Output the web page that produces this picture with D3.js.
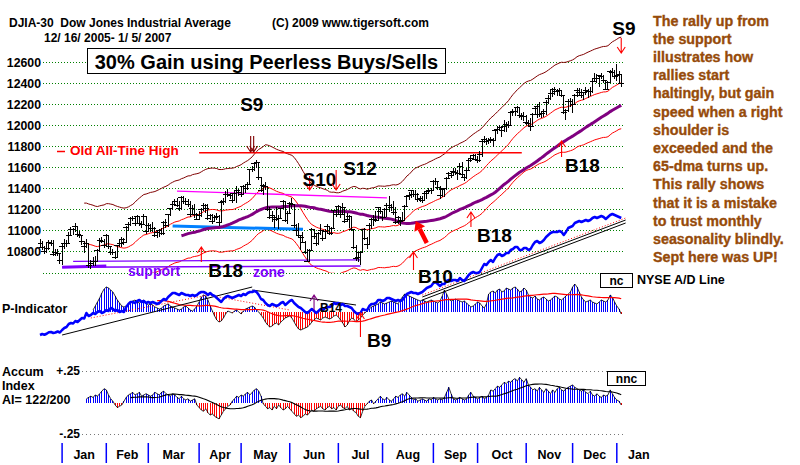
<!DOCTYPE html>
<html>
<head>
<meta charset="utf-8">
<script src="https://cdn.jsdelivr.net/npm/d3@7"></script>
<style>
  body { margin: 0; background: #fff; }
  svg text { font-family: "Liberation Sans", Arial, sans-serif; font-weight: bold; }
</style>
</head>
<body>
<div id="chart"></div>
<script>
// ---- data: DJIA daily bars 12/16/2005 - 1/5/2007
const holidays = ["2005-12-26","2006-01-02","2006-01-16","2006-02-20","2006-04-14","2006-05-29",
  "2006-07-04","2006-09-04","2006-11-23","2006-12-25","2007-01-01","2007-01-02"];

const closes = [
  10876,10837,10806,10834,10889,10884,10778,10796,10785,10718,
  10847,10880,10882,10959,11012,11012,11043,10962,10960,10896,10855,10881,10667,10689,10712,10711,10809,10907,10901,10865,
  10954,10852,10794,10798,10750,10859,10883,10919,10892,11028,11059,11121,11115,11069,11137,11068,11062,11138,10993,
  11054,11026,11022,10959,10981,11006,10972,11076,11051,11151,11210,11253,11280,11240,11215,11317,11273,11280,11250,11155,11216,11151,11109,
  11144,11203,11240,11213,11120,11141,11090,11130,11137,11074,11268,11279,11343,11347,11336,11283,11354,11383,11367,
  11343,11416,11400,11439,11578,11585,11640,11643,11501,11381,11429,11420,11205,11128,11144,11124,11105,11117,11211,11278,11094,11168,
  11260,11248,11049,11002,10956,10939,10892,10793,10706,10817,11015,10942,10875,10975,11007,10929,10989,11045,10974,11021,11191,11150,
  11228,11151,11225,11091,11104,11135,11013,10846,10739,10747,10799,11011,10928,10868,11051,11104,11103,11100,11220,11186,
  11125,11200,11243,11240,11219,11174,11076,11124,11088,11098,11230,11327,11335,11381,11345,11340,11298,11304,11284,11352,11370,11383,11381,
  11464,11469,11406,11331,11392,11397,11498,11544,11527,11561,11555,11541,11613,11533,11508,11576,11669,11689,11718,11679,
  11670,11727,11851,11867,11850,11858,11867,11852,11948,11961,11981,11950,11993,12012,12002,12117,12128,12135,12164,12090,12086,12081,
  12031,12019,11986,12106,12157,12177,12103,12108,12132,12218,12252,12306,12343,12317,12322,12327,12280,12122,12136,12227,12222,
  12194,12284,12332,12309,12278,12307,12328,12316,12318,12417,12446,12441,12471,12464,12421,12343,12408,12511,12502,12463,
  12475,12481,12398
];
const highs = [
  10920,10900,10860,10880,10910,10915,10910,10830,10830,10790,
  10880,10920,10910,10990,11040,11030,11070,11050,11000,10960,10900,10920,10880,10720,10750,10760,10830,10930,10940,10920,
  10970,10960,10860,10830,10810,10870,10920,10940,10930,11050,11080,11130,11140,11140,11150,11140,11090,11160,11140,
  11070,11060,11080,11040,11000,11020,11030,11090,11110,11160,11220,11280,11300,11310,11280,11330,11330,11310,11300,11280,11240,11250,11170,
  11190,11220,11260,11250,11250,11160,11160,11150,11170,11150,11290,11310,11380,11400,11360,11350,11380,11420,11400,
  11420,11430,11440,11460,11590,11610,11650,11670,11650,11500,11440,11460,11420,11230,11190,11150,11230,11150,11220,11290,11280,11190,
  11270,11310,11250,11060,11070,10960,10990,10900,10830,10830,11030,11020,10970,10990,11060,11010,11020,11060,11050,11040,11200,11230,
  11240,11230,11260,11230,11170,11150,11140,11010,10870,10790,10810,11020,11030,10940,11070,11120,11150,11190,11230,11230,
  11190,11220,11260,11330,11250,11280,11230,11140,11130,11180,11240,11340,11370,11390,11390,11390,11360,11330,11330,11370,11390,11410,11410,
  11480,11500,11470,11420,11410,11410,11510,11560,11560,11600,11600,11580,11640,11650,11540,11600,11680,11720,11730,11730,
  11710,11760,11870,11900,11880,11880,11890,11880,11960,11990,12000,11990,12050,12030,12040,12130,12150,12170,12180,12170,12120,12130,
  12100,12050,12070,12120,12180,12200,12220,12130,12150,12240,12290,12330,12350,12360,12340,12350,12330,12290,12150,12250,12260,
  12250,12300,12350,12350,12340,12320,12360,12340,12360,12440,12500,12490,12480,12500,12480,12430,12420,12520,12540,12520,
  12580,12510,12480
];
const lows = [
  10840,10815,10780,10790,10820,10860,10760,10760,10760,10690,
  10680,10830,10850,10880,10950,10960,10990,10940,10930,10870,10790,10840,10650,10640,10670,10670,10710,10800,10880,10840,
  10850,10830,10770,10770,10730,10740,10850,10850,10870,10880,11000,11050,11090,11050,11060,11050,11030,11060,10970,
  10990,10990,10990,10940,10930,10940,10960,10960,11030,11040,11140,11200,11240,11230,11190,11200,11250,11250,11230,11130,11150,11120,11100,
  11100,11130,11190,11170,11100,11100,11060,11080,11100,11050,11070,11240,11260,11320,11300,11260,11280,11260,11330,
  11320,11340,11360,11390,11440,11560,11570,11600,11480,11370,11340,11390,11190,11110,11080,11030,11090,11020,11110,11210,11080,11060,
  11160,11210,11030,10960,10940,10820,10880,10780,10700,10700,10820,10920,10860,10870,10960,10900,10920,10980,10960,10960,11020,11130,
  11150,11120,11150,11070,11080,11030,11000,10830,10710,10700,10680,10800,10910,10830,10870,11020,11050,11080,11100,11160,
  11090,11120,11130,11180,11190,11150,11060,11060,11050,11080,11100,11230,11290,11310,11320,11300,11270,11270,11260,11280,11300,11350,11350,
  11380,11430,11390,11300,11320,11320,11390,11490,11500,11520,11530,11480,11540,11510,11470,11490,11570,11650,11670,11660,
  11640,11650,11700,11830,11810,11820,11830,11790,11850,11920,11950,11890,11940,11940,11970,11990,12090,12090,12120,12070,12050,12040,
  12000,11980,11950,11990,12100,12070,12080,12070,12080,12100,12200,12240,12270,12290,12280,12290,12270,12110,12050,12130,12170,
  12120,12190,12270,12280,12260,12240,12290,12260,12280,12310,12410,12400,12360,12440,12400,12330,12330,12400,12470,12440,
  12420,12400,12360
];
// NYSE A/D line (relative units)
const adLine = [
  4.0,4.8,4.2,5.0,6.2,6.4,5.6,6.0,6.8,6.0,
  8.0,9.6,10.4,12.8,13.6,13.2,15.2,14.4,16.0,17.6,17.2,21.6,19.2,20.0,21.6,20.8,22.4,23.2,21.6,22.4,
  24.0,23.2,25.6,24.8,23.2,24.0,22.4,23.2,22.4,26.4,28.8,30.4,30.4,29.6,31.2,32.0,30.4,31.2,29.6,
  30.4,29.6,30.4,29.6,28.8,29.6,31.2,32.8,32.0,34.4,36.0,37.6,37.6,36.8,36.0,37.6,36.8,36.0,36.0,35.2,36.0,35.2,36.0,
  37.6,38.4,38.4,37.6,36.0,37.6,36.0,35.2,33.6,32.0,30.4,32.8,34.4,35.2,34.4,33.6,34.4,35.2,36.0,
  35.2,36.8,36.0,37.6,38.4,38.4,39.2,38.4,36.0,32.8,32.0,29.6,28.0,27.2,28.8,28.0,27.2,28.0,29.6,30.4,28.0,29.6,
  31.2,32.0,29.6,28.0,26.4,25.6,24.0,22.4,21.6,23.2,24.8,23.2,21.6,23.2,24.8,24.0,25.6,26.4,26.4,27.2,29.6,28.8,
  29.6,28.0,28.8,27.2,27.2,26.4,25.6,23.2,21.6,20.8,21.6,24.8,24.0,24.0,27.2,28.8,28.8,29.6,32.0,32.0,
  31.2,32.0,33.6,33.6,32.8,32.0,31.2,32.0,31.2,32.0,34.4,36.8,37.6,38.4,37.6,37.6,36.8,37.6,38.4,40.0,41.6,42.4,43.2,
  45.6,46.4,44.8,43.2,44.8,44.8,47.2,48.0,47.2,48.0,48.0,47.2,49.6,48.0,47.2,49.6,52.0,53.6,54.4,53.6,
  53.6,54.4,57.6,60.8,60.0,62.4,64.0,62.4,65.6,68.0,68.8,67.2,68.0,69.6,69.6,72.0,72.8,74.4,74.4,72.0,72.0,73.6,
  73.6,72.0,72.8,76.0,78.4,79.2,77.6,78.4,80.0,82.4,84.0,85.6,86.4,86.4,86.4,87.2,86.4,84.0,86.4,89.6,90.4,
  91.2,93.6,94.4,95.2,94.4,95.2,96.0,95.2,96.0,97.6,98.4,97.6,98.4,99.2,98.4,96.8,98.4,100.0,100.8,100.0,
  99.2,98.4,97.6
];
// P-Indicator
const pInd = [
  null,null,null,null,null,null,null,null,null,null,
  null,null,null,null,null,null,null,null,null,null,null,null,null,null,20,60,100,140,190,230,
  250,240,220,200,160,120,90,60,50,60,80,100,110,120,100,90,110,120,90,
  70,80,70,50,40,30,40,60,70,80,60,50,40,30,20,30,50,60,40,20,10,30,60,
  100,150,170,160,120,60,10,-40,-80,-100,-90,-60,-20,10,0,-10,10,20,0,
  -20,10,30,40,50,60,50,20,0,-30,-60,-100,-130,-150,-140,-120,-110,-130,-100,-80,-60,-50,
  -40,-60,-100,-140,-170,-180,-170,-160,-150,-130,-100,-80,-60,-70,-80,-60,-50,-60,-70,-60,-40,-30,
  -50,-80,-110,-150,-130,-90,-60,-70,-100,-80,-60,-30,-10,10,30,50,60,70,80,100,
  90,80,90,100,110,100,90,80,120,150,180,170,160,150,140,130,120,110,120,110,100,110,120,
  110,100,90,110,160,220,180,130,110,120,130,120,110,100,110,90,70,50,60,80,
  100,90,60,40,80,180,200,210,190,220,230,200,210,240,230,220,240,250,230,200,210,240,
  220,170,150,140,160,130,120,140,150,130,110,120,140,160,150,130,120,140,160,180,200,
  250,280,250,200,150,120,100,110,120,100,90,80,100,120,110,100,120,170,150,100,
  60,30,-20
];
// Accumulation Index
const accum = [
  null,null,null,null,null,null,null,null,null,null,
  null,null,null,null,null,null,null,null,null,null,null,.03,.04,.05,.04,.06,.05,.07,.09,.11,
  .10,.06,.03,.01,-.02,-.04,-.03,-.02,.01,.04,.06,.07,.08,.06,.07,.08,.05,.06,.07,
  .06,.05,.06,.08,.07,.06,.08,.09,.07,.06,.05,.07,.06,.04,.03,.05,.03,.02,.03,.01,.02,.03,-.02,
  -.04,-.06,-.07,-.05,-.08,-.10,-.09,-.11,-.12,-.13,-.10,-.07,-.05,-.03,-.02,.01,.03,.05,.04,
  .06,.05,.07,.08,.06,.08,.10,.11,.09,.05,-.01,-.03,-.05,-.04,-.06,-.03,-.05,-.02,-.04,-.06,-.05,-.03,
  -.05,-.07,-.09,-.11,-.10,-.12,-.11,-.09,-.10,-.08,-.06,-.07,-.05,-.04,-.03,-.05,-.06,-.04,-.03,-.05,-.04,-.06,
  -.03,-.02,-.04,-.05,-.03,-.06,-.05,-.07,-.08,-.11,-.12,-.07,-.03,-.01,.01,.02,-.01,.01,.03,.05,
  .03,.02,.04,.02,.01,.03,.05,.04,.06,.07,.05,.08,.06,.04,.02,.03,.01,.02,.03,.02,.01,.03,.02,
  .04,.03,.02,.03,.02,.04,.08,.12,.07,.03,.02,.03,.04,.03,.02,.03,.06,.08,.05,.04,
  .03,.04,.05,.03,.04,.06,.10,.09,.11,.13,.12,.14,.16,.15,.17,.16,.18,.19,.17,.20,.18,.16,
  .19,.14,.12,.10,.11,.09,.12,.10,.08,.11,.09,.07,.10,.08,.11,.12,.10,.09,.11,.12,.13,
  .14,.12,.11,.10,.09,.10,.08,.07,.09,.06,.05,.07,.05,.04,.06,.05,.06,.10,.07,.04,
  .02,.01,-.02
];

const gridLevels = [10600, 10800, 11000, 11200, 11400, 11600, 11800, 12000, 12200, 12400, 12600];
const priceLabels = [10800, 11000, 11200, 11400, 11600, 11800, 12000, 12200, 12400, 12600];
const monthLabels = ["Jan","Feb","Mar","Apr","May","Jun","Jul","Aug","Sep","Oct","Nov","Dec","Jan"];
const aiTicks = [0.25, -0.25];
const aiTickLabels = ["+.25", "-.25"];

// signals: label, day index, level, panel
const signals = [
  { label: "S9",  i: 263, v: 12685, panel: "price" },
  { label: "S9",  i: 96,  v: 11747, panel: "price" },
  { label: "S10", i: 122, v: 11387, panel: "price" },
  { label: "S12", i: 134, v: 11387, panel: "price" },
  { label: "B18", i: 73,  v: 10846, panel: "price" },
  { label: "B10", i: 169, v: 10799, panel: "price" },
  { label: "B18", i: 195, v: 11178, panel: "price" },
  { label: "B18", i: 236, v: 11851, panel: "price" },
  { label: "B14", i: 124, v: 170,   panel: "pi" },
  { label: "B9",  i: 145, v: -10,   panel: "pi" }
];
const signalStyle = [
  { dx: -9,  dy: -18, len: 15, color: "#ff0000", size: 19 },
  { dx: -12, dy: -41, len: 16, color: "#800000", size: 19, dbl: true },
  { dx: -7,  dy: -4,  len: 14, color: "#ff0000", size: 19 },
  { dx: 7,   dy: -15, len: 20, color: "#ff0000", size: 19 },
  { dx: 7,   dy: 30,  len: 15, color: "#ff0000", size: 19 },
  { dx: 4.5, dy: 31,  len: 18, color: "#ff0000", size: 19 },
  { dx: 6,   dy: 30,  len: 15, color: "#ff0000", size: 19 },
  { dx: 3.5, dy: 31,  len: 16, color: "#ff0000", size: 19 },
  { dx: 6,   dy: 17,  len: 15, color: "#800080", size: 12 },
  { dx: 6.5, dy: 34,  len: 24, color: "#ff0000", size: 19 }
];

// hand-drawn lines in price units [day index, price]
const oldHigh = [[72, 11740], [218, 11740]];
const supportLow = [[10, 10655], [145, 10667]];
const supportHigh = [[15, 10710], [145, 10725]];
const magentaLine = [[62, 11377], [157, 11313]];
const neckline = [[60, 11045], [119, 11014]];
const bigArrow = [[175, 10884], [170, 11093]];
// trendlines in A/D units
const adTrendBlack = [[[10, 4], [96, 42.4]], [[96, 40], [143, 28]]];
const adTrendRed = [[[23, 17.6], [76, 36]], [[76, 36], [113, 24]]];
const adTrendUp = [[173, 34.4], [265, 96]];

const rightNote = ["The rally up from","the support","illustrates how","rallies start",
  "haltingly, but gain","speed when a right","shoulder is","exceeded and the","65-dma turns up.",
  "This rally shows","that it is a mistake","to trust monthly","seasonality blindly.","Sept here was UP!"];

// ---- setup
const W = 800, H = 465;
const svg = d3.select("#chart").append("svg").attr("width", W).attr("height", H);
svg.append("rect").attr("width", W).attr("height", H).attr("fill", "#fff");

const fmt = d3.utcFormat("%Y-%m-%d");
const days = d3.utcDay.range(new Date(Date.UTC(2005, 11, 16)), new Date(Date.UTC(2007, 0, 6)))
  .filter(d => d.getUTCDay() % 6 !== 0 && !holidays.includes(fmt(d)));

const x = d3.scaleLinear().domain([0, days.length - 1]).range([40, 40 + (days.length - 1) * 2.21]);
const y = d3.scaleLinear().domain([10600, 12600]).range([273, 62]);
const adY = d3.scaleLinear().domain([0, 100]).range([340, 215]);
const pY = d3.scaleLinear().domain([0, 100]).range([312, 302]);
const aiY = d3.scaleLinear().domain([-0.25, 0.25]).range([434, 371]);

function sma(vals, n) {
  return vals.map((v, i) => {
    if (i < n - 1) return null;
    const w = vals.slice(i - n + 1, i + 1);
    if (w.some(d => d == null)) return null;
    return d3.mean(w);
  });
}
const ma21 = sma(closes, 21);
const ma65 = sma(closes, 65);
const upper = ma21.map(d => d == null ? null : d * 1.035);
const lower = ma21.map(d => d == null ? null : d * 0.965);
const piMa = sma(pInd, 30);
const aiMa = sma(accum, 21);

const lineOf = (vals, ys) => d3.line()
  .defined(d => d != null)
  .x((d, i) => x(i)).y(d => ys(d))(vals);
const seg = (pts, ys) => d3.line().x(d => x(d[0])).y(d => ys(d[1]))(pts);

// ---- header
svg.append("text").attr("x", 9).attr("y", 27).attr("font-size", 12)
  .text("DJIA-30  Dow Jones Industrial Average").attr("xml:space", "preserve");
svg.append("text").attr("x", 44).attr("y", 42).attr("font-size", 12).text("12/ 16/ 2005- 1/ 5/ 2007");
svg.append("text").attr("x", 272).attr("y", 27).attr("font-size", 12).text("(C) 2009 www.tigersoft.com");

// ---- price grid
svg.append("g").selectAll("line").data(gridLevels).join("line")
  .attr("x1", 43).attr("x2", 625).attr("y1", d => y(d)).attr("y2", d => y(d))
  .attr("stroke", "#008000").attr("stroke-dasharray", "1,2").attr("shape-rendering", "crispEdges");
svg.append("g").selectAll("text").data(priceLabels).join("text")
  .attr("x", 41).attr("y", d => y(d) + 4.5).attr("text-anchor", "end").attr("font-size", 12.3)
  .text(d => d);

// ---- price panel
svg.append("clipPath").attr("id", "pclip").append("rect")
  .attr("x", 38).attr("y", 25).attr("width", 592).attr("height", 248);
const pg = svg.append("g").attr("clip-path", "url(#pclip)");

pg.append("path").attr("d", lineOf(upper, y)).attr("fill", "none").attr("stroke", "#800000");
pg.append("path").attr("d", lineOf(lower, y)).attr("fill", "none").attr("stroke", "#ff0000");
pg.append("path").attr("d", lineOf(ma21, y)).attr("fill", "none").attr("stroke", "#ff0000");

pg.append("path").attr("d", seg(oldHigh, y)).attr("stroke", "#ff0000").attr("stroke-width", 1.5);
pg.append("path").attr("d", seg(supportLow, y)).attr("stroke", "#8000ff").attr("stroke-width", 1.5);
pg.append("path").attr("d", seg(supportLow.map((d, k) => k ? [30, d[1] - 1] : d), y))
  .attr("stroke", "#8000ff").attr("stroke-width", 3);
pg.append("path").attr("d", seg(supportHigh, y)).attr("stroke", "#8000ff").attr("stroke-width", 1.3);
pg.append("path").attr("d", seg(magentaLine, y)).attr("stroke", "#ff00ff").attr("stroke-width", 1.3);
pg.append("path").attr("d", seg(neckline, y)).attr("stroke", "#0080ff").attr("stroke-width", 3);

pg.append("path").attr("d", lineOf(ma65, y)).attr("fill", "none")
  .attr("stroke", "#800080").attr("stroke-width", 3);

const bars = pg.append("g").attr("stroke", "#000").attr("shape-rendering", "crispEdges");
bars.selectAll("line.hl").data(closes).join("line").attr("class", "hl")
  .attr("x1", (d, i) => x(i)).attr("x2", (d, i) => x(i))
  .attr("y1", (d, i) => y(highs[i])).attr("y2", (d, i) => y(lows[i]));
bars.selectAll("line.cl").data(closes).join("line").attr("class", "cl")
  .attr("x1", (d, i) => x(i) - 3).attr("x2", (d, i) => x(i) + 3)
  .attr("y1", d => y(d)).attr("y2", d => y(d));

// big red arrow
{
  const p0 = [x(bigArrow[0][0]), y(bigArrow[0][1])];
  const p1 = [x(bigArrow[1][0]), y(bigArrow[1][1])];
  const ang = Math.atan2(p1[1] - p0[1], p1[0] - p0[0]);
  const hx = p1[0] - 9 * Math.cos(ang), hy = p1[1] - 9 * Math.sin(ang);
  svg.append("line").attr("x1", p0[0]).attr("y1", p0[1]).attr("x2", hx).attr("y2", hy)
    .attr("stroke", "#ff0000").attr("stroke-width", 4.5);
  const px = -Math.sin(ang), py = Math.cos(ang);
  svg.append("path").attr("fill", "#ff0000")
    .attr("d", `M${p1[0]},${p1[1]}L${hx + 6 * px},${hy + 6 * py}L${hx - 6 * px},${hy - 6 * py}Z`);
}

// ---- P-Indicator histogram
const pig = svg.append("g").attr("shape-rendering", "crispEdges");
pig.selectAll("line").data(pInd.map((v, i) => ({ v, i })).filter(d => d.v != null)).join("line")
  .attr("x1", d => x(d.i)).attr("x2", d => x(d.i))
  .attr("y1", pY(0)).attr("y2", d => pY(d.v))
  .attr("stroke", d => d.v >= 0 ? "#0000ff" : "#ff0000");
svg.append("path").attr("d", lineOf(pInd, pY)).attr("fill", "none").attr("stroke", "#000").attr("stroke-width", 0.8);
svg.append("path").attr("d", lineOf(piMa, pY)).attr("fill", "none").attr("stroke", "#ff0000").attr("stroke-width", 1.2);

// ---- A/D line and trendlines
adTrendBlack.forEach(t => svg.append("path").attr("d", seg(t, adY)).attr("stroke", "#000"));
adTrendRed.forEach(t => svg.append("path").attr("d", seg(t, adY)).attr("stroke", "#ff0000")
  .attr("stroke-dasharray", "1,2"));
svg.append("path").attr("d", seg(adTrendUp, adY)).attr("stroke", "#000");
svg.append("path").attr("d", seg(adTrendUp, adY)).attr("stroke", "#000").attr("transform", "translate(0,3)");
svg.append("path").attr("d", seg(adTrendUp, adY)).attr("stroke", "#ff0000")
  .attr("stroke-dasharray", "1,2").attr("transform", "translate(0,-2)");
svg.append("path").attr("d", lineOf(adLine, adY)).attr("fill", "none")
  .attr("stroke", "#0000ff").attr("stroke-width", 2.5).attr("stroke-linejoin", "round");

// ---- signal arrows and labels
signals.forEach((s, k) => {
  const st = signalStyle[k];
  const sx = x(s.i), sy = s.panel === "price" ? y(s.v) : pY(s.v);
  const down = s.label[0] === "S";
  const tail = down ? sy - st.len : sy + st.len;
  const hd = down ? -6 : 6;
  const offs = st.dbl ? [-1.5, 1.5] : [0];
  offs.forEach(o => {
    svg.append("path").attr("fill", "none").attr("stroke", st.color).attr("stroke-width", 1.1)
      .attr("d", `M${sx + o},${tail}L${sx + o},${sy}M${sx - 4 + o},${sy + hd}L${sx + o},${sy}L${sx + 4 + o},${sy + hd}`);
  });
  svg.append("text").attr("x", sx + st.dx).attr("y", sy + st.dy).attr("font-size", st.size)
    .attr("fill", "#000").text(s.label);
});

// ---- annotations
svg.append("rect").attr("x", 87.5).attr("y", 48.5).attr("width", 358).attr("height", 25)
  .attr("fill", "#fff").attr("stroke", "#000");
svg.append("text").attr("x", 266.5).attr("y", 69).attr("text-anchor", "middle").attr("font-size", 20)
  .text("30% Gain using Peerless Buys/Sells");

svg.append("line").attr("x1", 57).attr("x2", 65).attr("y1", 151.5).attr("y2", 151.5)
  .attr("stroke", "#ff0000").attr("stroke-width", 1.5);
svg.append("text").attr("x", 70).attr("y", 155).attr("font-size", 13.5).attr("fill", "#ff0000")
  .text("Old All-Tine High");
svg.append("text").attr("x", 128).attr("y", 276).attr("font-size", 14).attr("fill", "#8000ff").text("support");
svg.append("text").attr("x", 253).attr("y", 277).attr("font-size", 14).attr("fill", "#8000ff").text("zone");

svg.append("g").selectAll("text").data(rightNote).join("text")
  .attr("x", 653).attr("y", (d, i) => 25.5 + i * 18.2).attr("font-size", 14.3)
  .attr("fill", "#964b0a").attr("stroke", "#964b0a").attr("stroke-width", 0.35)
  .text(d => d);

svg.append("text").attr("x", 2).attr("y", 313).attr("font-size", 12.5).text("P-Indicator");
svg.append("rect").attr("x", 600.5).attr("y", 273.5).attr("width", 32).attr("height", 14)
  .attr("fill", "#fff").attr("stroke", "#000");
svg.append("text").attr("x", 616.5).attr("y", 285).attr("text-anchor", "middle").attr("font-size", 12).text("nc");
svg.append("text").attr("x", 637).attr("y", 284).attr("font-size", 12.5).text("NYSE A/D Line");

// ---- Accum Index panel
svg.append("g").selectAll("line").data(aiTicks).join("line")
  .attr("x1", 82).attr("x2", 625).attr("y1", d => aiY(d)).attr("y2", d => aiY(d))
  .attr("stroke", "#777").attr("stroke-dasharray", "1,3").attr("shape-rendering", "crispEdges");
svg.append("g").selectAll("text").data(aiTicks).join("text")
  .attr("x", 80).attr("y", d => aiY(d) + 3.5).attr("text-anchor", "end").attr("font-size", 12)
  .text((d, i) => aiTickLabels[i]);
const aig = svg.append("g").attr("shape-rendering", "crispEdges");
aig.selectAll("line").data(accum.map((v, i) => ({ v, i })).filter(d => d.v != null)).join("line")
  .attr("x1", d => x(d.i)).attr("x2", d => x(d.i))
  .attr("y1", aiY(0)).attr("y2", d => aiY(d.v))
  .attr("stroke", d => d.v >= 0 ? "#0000ff" : "#ff0000");
svg.append("path").attr("d", lineOf(accum, aiY)).attr("fill", "none").attr("stroke", "#000").attr("stroke-width", 0.8);
svg.append("path").attr("d", lineOf(aiMa, aiY)).attr("fill", "none").attr("stroke", "#000").attr("stroke-width", 1.1);

["Accum", "Index", "AI= 122/200"].forEach((t, k) =>
  svg.append("text").attr("x", 2).attr("y", 376 + k * 14).attr("font-size", 12.5).text(t));
svg.append("rect").attr("x", 607.5).attr("y", 371.5).attr("width", 38).attr("height", 14)
  .attr("fill", "#fff").attr("stroke", "#000");
svg.append("text").attr("x", 626.5).attr("y", 383).attr("text-anchor", "middle").attr("font-size", 12).text("nnc");

// ---- month axis
const monthStarts = days.map((d, i) => i).filter(i => i > 0 && days[i].getUTCMonth() !== days[i - 1].getUTCMonth());
svg.append("g").selectAll("line").data(monthStarts).join("line")
  .attr("x1", d => x(d)).attr("x2", d => x(d)).attr("y1", 443).attr("y2", 463)
  .attr("stroke", "#0000ff").attr("stroke-width", 1.5);
svg.append("g").selectAll("text").data(monthLabels).join("text")
  .attr("x", (d, k) => k < monthStarts.length - 1 ? (x(monthStarts[k]) + x(monthStarts[k + 1])) / 2 : x(monthStarts[k]) + 22)
  .attr("y", 459).attr("text-anchor", "middle").attr("font-size", 12.5).text(d => d);
</script>
</body>
</html>
